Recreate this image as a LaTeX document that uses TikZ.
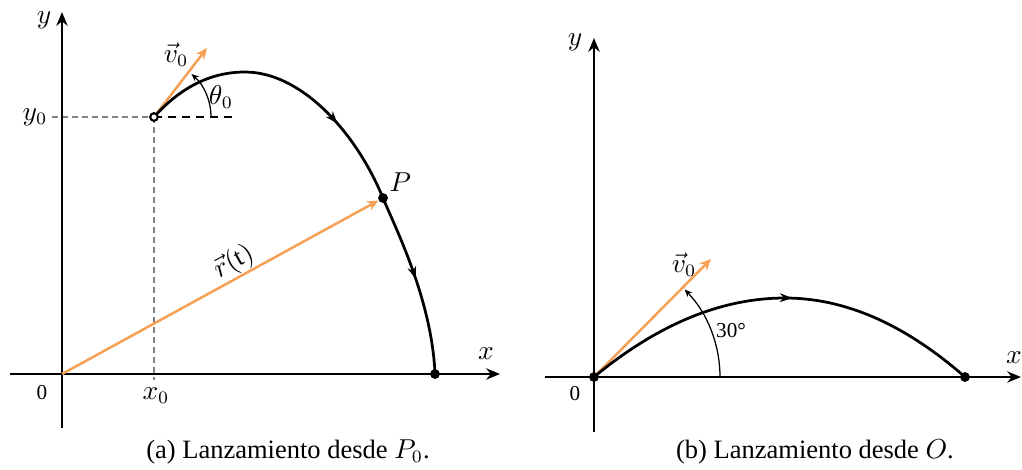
\documentclass[tikz,border=0pt]{standalone}
\usepackage{fontspec}
\setmainfont{Liberation Serif}
\usetikzlibrary{arrows.meta, positioning, decorations.markings}
\definecolor{vecorange}{RGB}{245,160,85}
\definecolor{guidegray}{RGB}{128,128,128}

\begin{document}
\begin{tikzpicture}[x=0.4pt, y=-0.4pt,
        axis/.style={line width=1.1pt, -{Stealth[length=5.5pt, width=4.5pt]}},
        traj/.style={line width=1.1pt},
        vec/.style={line width=1pt, vecorange, -{Stealth[length=4.5pt, width=4pt]}},
        anglearc/.style={line width=0.5pt, -{Stealth[length=3pt, width=2.5pt]}},
        guide/.style={line width=0.8pt, guidegray, dash pattern=on 2.4pt off 1.6pt},
        dot/.style={circle, fill, inner sep=0pt, minimum size=3.8pt},
        ring/.style={circle, draw, fill=white, line width=0.8pt, inner sep=0pt, minimum size=3pt},
        lab/.style={font=\fontsize{10.5}{12}\selectfont, inner sep=1pt},
        num/.style={font=\fontsize{8.5}{10}\selectfont, inner sep=1pt},
        caption/.style={font=\fontsize{10.6}{12}\selectfont},
        flowmark/.style={postaction={decorate, decoration={markings,
            mark=at position #1 with {\arrow{Stealth[length=5pt, width=3.5pt]}}}}}]

    \useasboundingbox (0,0) rectangle (1022,469);

    % (a) lanzamiento desde P0
    \coordinate (xstart1) at (10,374);
    \coordinate (xend1) at (500,374);
    \coordinate (ystart1) at (62,428);
    \coordinate (yend1) at (62,12);
    \coordinate (O1) at (62,374);
    \node[ring] (P0) at (154,117) {};
    \node[dot] (P) at (383,198) {};
    \node[dot] (E1) at (435,374) {};
    \coordinate (y0start) at (52,117);
    \coordinate (x0end) at (154,380);
    \coordinate (h0end) at (236,117);
    \coordinate (v1tip) at (207,48);
    \coordinate (top1) at (245,72);

    \draw[guide] (y0start) -- (P0.center);
    \draw[guide] (P0.center) -- (x0end);
    \draw[line width=1.1pt, dash pattern=on 3.2pt off 2.4pt] (P0.center) -- (h0end);
    \draw[axis] (xstart1) -- (xend1);
    \draw[axis] (ystart1) -- (yend1);

    \draw[vec] (O1) -- (P);
    \draw[vec] (P0.center) -- (v1tip);
    \draw[anglearc] (P0.center) ++(57,0) arc[start angle=0, end angle=49, radius=22.8pt];

    \draw[traj, flowmark=0.44, flowmark=0.80] (P0.center)
        .. controls (180,88) and (210,72) .. (top1)
        .. controls (300,72) and (355,130) .. (P.center)
        .. controls (395,227) and (432,300) .. (E1.center);
    \node[ring] at (P0) {};
    \node[dot] at (P) {};
    \node[dot] at (E1) {};

    \node[lab] (ylab1) at (44,20) {$y$};
    \node[lab] (y0lab) at (35,117) {$y_0$};
    \node[lab] (x0lab) at (156,396) {$x_0$};
    \node[num] (zero1) at (42,393) {0};
    \node[lab] (xlab1) at (486,354) {$x$};
    \node[lab] (v1lab) at (176,55) {$\vec{v}_0$};
    \node[lab] (thlab) at (221,97) {$\theta_0$};
    \node[lab] (Plab) [above right=0pt and 0pt of P] {$P$};
    \node[lab, rotate=28.7] (rlab) at (234,262) {$\vec{r}(\mathrm{t})$};
    \node[caption] (capa) at (288,452) {(a) Lanzamiento desde $P_0$.};

    % (b) lanzamiento desde O
    \coordinate (xstart2) at (545,377);
    \coordinate (xend2) at (1021,377);
    \coordinate (ystart2) at (594,432);
    \coordinate (yend2) at (594,38);
    \node[dot] (O2) at (594,377) {};
    \node[dot] (E2) at (965,377) {};
    \coordinate (v2tip) at (711,259);
    \coordinate (top2) at (785,298);

    \draw[axis] (xstart2) -- (xend2);
    \draw[axis] (ystart2) -- (yend2);
    \draw[vec] (O2.center) -- (v2tip);
    \draw[anglearc] (O2.center) ++(126,0) arc[start angle=0, end angle=44, radius=50.4pt];
    \draw[traj, flowmark=0.53] (O2.center) .. controls (657.7,324.3) and (721.3,298) .. (top2)
        .. controls (845,298) and (905,324.3) .. (E2.center);
    \node[dot] at (O2) {};
    \node[dot] at (E2) {};

    \node[lab] (ylab2) at (575,42) {$y$};
    \node[num] (zero2) at (575,394) {0};
    \node[lab] (xlab2) at (1014,358) {$x$};
    \node[lab] (v2lab) at (684,265) {$\vec{v}_0$};
    \node[num] (anglab) at (731,331) {30°};
    \node[caption] (capb) at (815,452) {(b) Lanzamiento desde $O$.};

\end{tikzpicture}
\end{document}
